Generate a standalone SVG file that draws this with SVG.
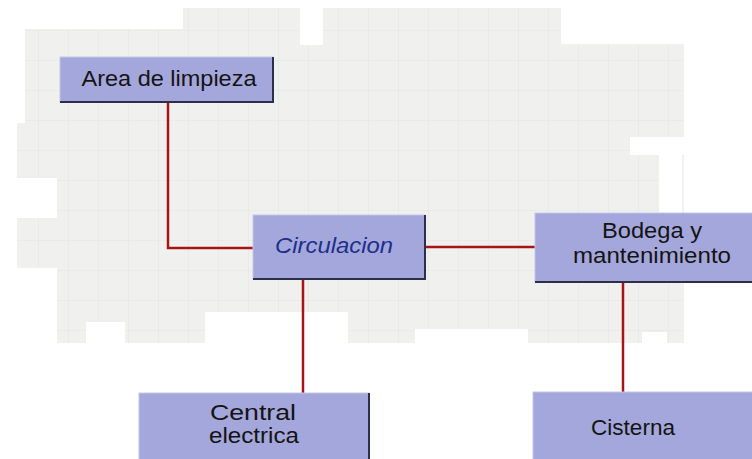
<svg xmlns="http://www.w3.org/2000/svg" width="752" height="459" viewBox="0 0 752 459">
<defs>
<pattern id="grid" x="8" y="0" width="30" height="30" patternUnits="userSpaceOnUse">
<rect width="30" height="30" fill="#f0f0ef"/>
<path d="M0 0H30M0 0V30" stroke="#e5e5e4" stroke-width="1" fill="none"/>
</pattern>
<style>
.box{fill:#a4a7db;stroke:#c4c6ea;stroke-width:1}
.edge{fill:none;stroke:#2e2e48;stroke-width:2}
.lbl{font-family:"Liberation Sans",Arial,sans-serif;font-size:21.5px;fill:#141414;text-anchor:middle}
.ital{font-style:italic;fill:#1f2f8c}
.con{fill:none;stroke:#a51515;stroke-width:2.5}
</style>
</defs>
<rect width="752" height="459" fill="#ffffff"/>
<g id="background">
<path fill="url(#grid)" d="M25 29H183V8H300V45H323V8H561V44H684V137H630V155H659V213H684V343H667V332H642V343H528V329H415V343H348V312H205V343H125V322H86V343H57V268H17V218H57V178H17V123H25Z"/>
<line x1="683" y1="155" x2="683" y2="213" stroke="#e3e3e2" stroke-width="1"/>
</g>
<g id="connectors">
<polyline class="con" points="168,102 168,248 253,248"/>
<line class="con" x1="425" y1="247" x2="535" y2="247"/>
<line class="con" x1="303" y1="279" x2="303" y2="393"/>
<line class="con" x1="623" y1="282" x2="623" y2="392"/>
</g>
<g id="area-limpieza">
<rect class="box" x="60" y="57" width="213" height="45"/>
<polyline class="edge" points="273,57 273,102 60,102"/>
<text class="lbl" x="169" y="86" textLength="175" lengthAdjust="spacingAndGlyphs">Area de limpieza</text>
</g>
<g id="circulacion">
<rect class="box" x="253" y="215" width="172" height="64"/>
<polyline class="edge" points="425,215 425,279 253,279"/>
<text class="lbl ital" x="334" y="253" textLength="118" lengthAdjust="spacingAndGlyphs">Circulacion</text>
</g>
<g id="bodega">
<rect class="box" x="535" y="213" width="220" height="69"/>
<line class="edge" x1="535" y1="282" x2="752" y2="282"/>
<text class="lbl" x="652" y="238" textLength="100" lengthAdjust="spacingAndGlyphs">Bodega y</text>
<text class="lbl" x="652" y="263" textLength="158" lengthAdjust="spacingAndGlyphs">mantenimiento</text>
</g>
<g id="central-electrica">
<rect class="box" x="139" y="393" width="230" height="70"/>
<line class="edge" x1="369" y1="393" x2="369" y2="459"/>
<text class="lbl" x="253" y="420" textLength="86" lengthAdjust="spacingAndGlyphs">Central</text>
<text class="lbl" x="254" y="443" textLength="90" lengthAdjust="spacingAndGlyphs">electrica</text>
</g>
<g id="cisterna">
<rect class="box" x="533" y="392" width="222" height="70"/>
<text class="lbl" x="633" y="435" textLength="84" lengthAdjust="spacingAndGlyphs">Cisterna</text>
</g>
</svg>
